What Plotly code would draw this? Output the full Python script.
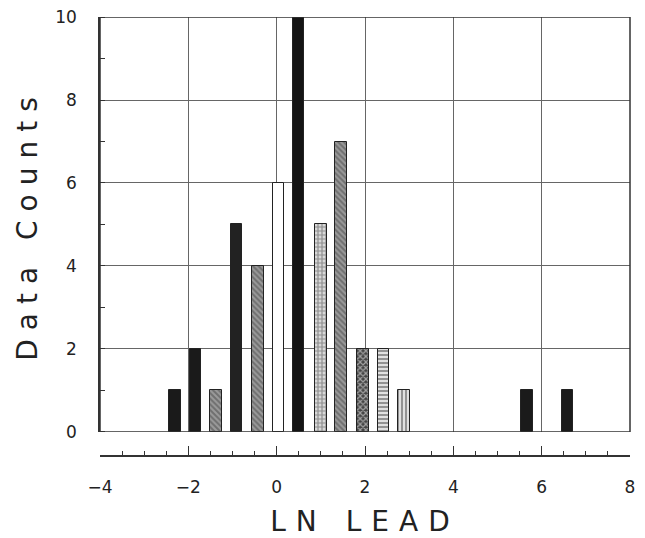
import plotly.graph_objects as go

# Bin centres (LN LEAD) and counts
centers = [-2.30, -1.84, -1.37, -0.91, -0.42, 0.04, 0.49, 1.00, 1.46, 1.95, 2.42, 2.88, 5.67, 6.59]
counts  = [1, 2, 1, 5, 4, 6, 10, 5, 7, 2, 2, 1, 1, 1]
fills   = ["#1a1a1a", "#1a1a1a", "#9a9a9a", "#222222", "#9a9a9a", "#ffffff", "#141414",
           "#d8d8d8", "#9a9a9a", "#444444", "#e0e0e0", "#e0e0e0", "#1a1a1a", "#1a1a1a"]
shapes_ = ["", "", "\\", "", "\\", "", "", "+", "\\", "x", "-", "|", "", ""]
fgcols  = ["#000", "#000", "#333", "#000", "#333", "#000", "#000",
           "#222", "#333", "#111", "#222", "#222", "#000", "#000"]

x_ticks = [-4, -2, 0, 2, 4, 6, 8]
y_ticks = [0, 2, 4, 6, 8, 10]

fig = go.Figure()
fig.add_trace(go.Bar(
    x=centers, y=counts, width=0.26,
    marker=dict(color=fills, line=dict(color="#222", width=1),
                pattern=dict(shape=shapes_, fgcolor=fgcols, size=4, solidity=0.5)),
    xaxis="x", yaxis="y", showlegend=False,
))
# invisible trace to activate the detached lower axis
fig.add_trace(go.Scatter(x=[-4, 8], y=[0, 0], xaxis="x2", yaxis="y",
                         mode="markers", marker=dict(opacity=0), showlegend=False,
                         hoverinfo="skip"))

title_font = dict(family="DejaVu Sans", size=28, color="#222")
tick_font = dict(family="DejaVu Sans", size=17, color="#222")

fig.update_layout(
    width=645, height=538,
    margin=dict(l=100, r=15, t=17, b=82, autoexpand=False),
    paper_bgcolor="white", plot_bgcolor="white",
    xaxis=dict(range=[-4, 8], domain=[0, 1], anchor="y",
               tickvals=x_ticks, showticklabels=False, ticks="",
               showgrid=True, gridcolor="#666", gridwidth=1.2,
               zeroline=False, showline=False, automargin=False),
    xaxis2=dict(range=[-4, 8], domain=[0, 1], anchor="free", position=0,
                overlaying="x", side="bottom", automargin=False,
                tickvals=x_ticks, ticktext=["\u22124", "\u22122", "0", "2", "4", "6", "8"],
                ticks="inside", ticklen=9, tickwidth=1.2, tickcolor="#333",
                minor=dict(dtick=0.5, tick0=-4, ticks="inside", ticklen=4,
                           tickwidth=1.2, tickcolor="#333", showgrid=False),
                showline=True, linecolor="#333", linewidth=1.5,
                showgrid=False, zeroline=False,
                tickfont=tick_font, ticklabelstandoff=16,
                title=dict(text='<span style="letter-spacing:10px">LN LEAD</span>',
                           font=title_font, standoff=14)),
    yaxis=dict(range=[0, 10], domain=[0.0547, 1], anchor="x", automargin=False,
               tickvals=y_ticks, ticks="", showgrid=True,
               gridcolor="#666", gridwidth=1.2,
               minor=dict(dtick=1, tick0=0, ticks="inside", ticklen=5,
                          tickwidth=1.2, tickcolor="#333", showgrid=False),
               showline=True, linecolor="#333", linewidth=1.5,
               zeroline=False, tickfont=tick_font, ticklabelstandoff=18,
               title=dict(text='<span style="letter-spacing:9px">Data Counts</span>',
                          font=title_font, standoff=9)),
    shapes=[dict(type="rect", xref="x domain", yref="y", x0=0, x1=1, y0=0, y1=10,
                 line=dict(color="#333", width=1.5), layer="above")],
    bargap=0,
)

fig.write_html("out.html")
